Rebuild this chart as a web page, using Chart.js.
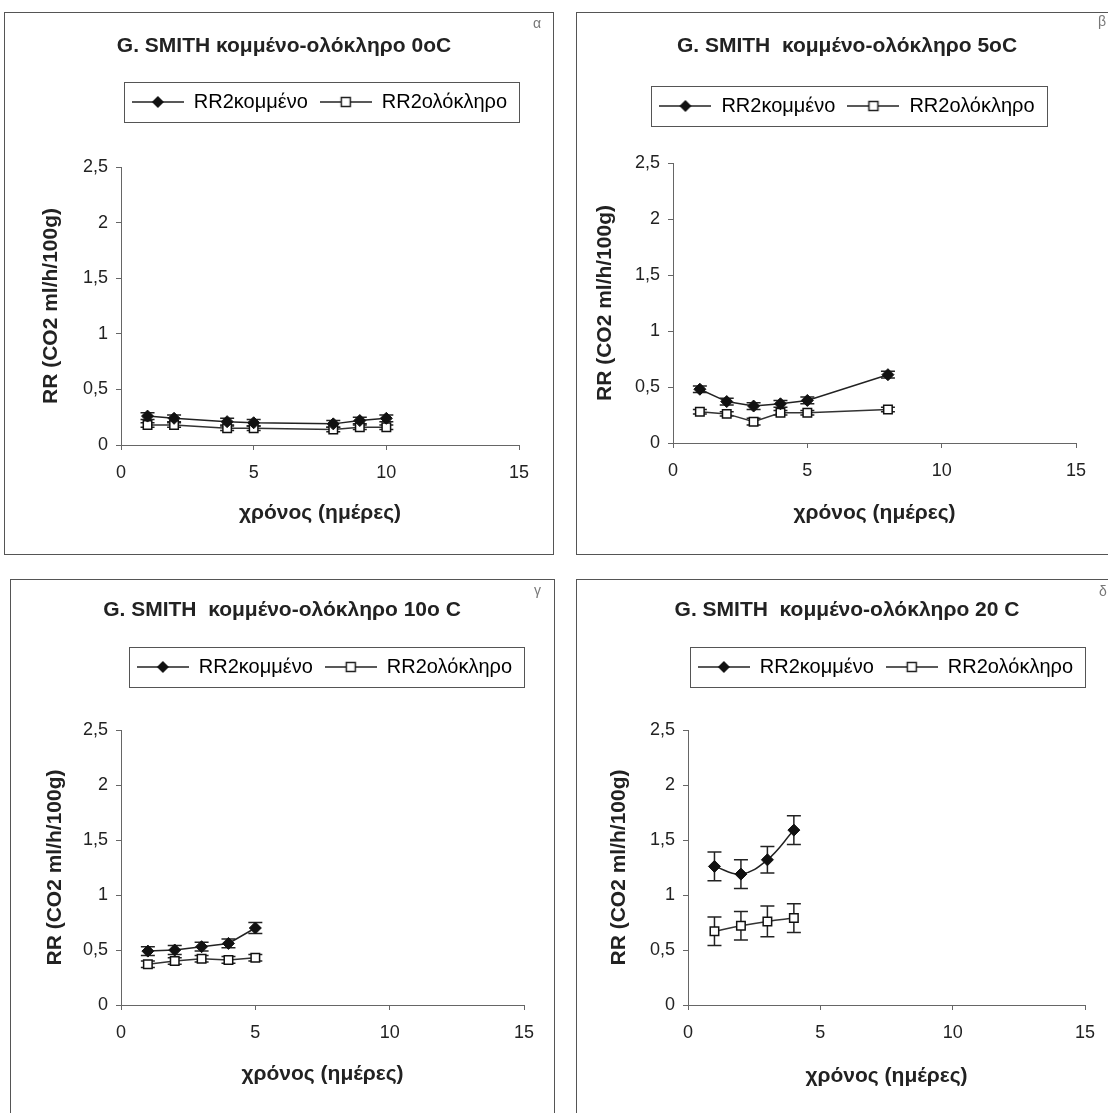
<!DOCTYPE html>
<html>
<head>
<meta charset="utf-8">
<title>G. SMITH κομμένο-ολόκληρο</title>
<script src="https://cdn.jsdelivr.net/npm/chart.js@4.4.1/dist/chart.umd.min.js"></script>
<style>
  body { margin: 0; background: #fff; }
  #page { position: relative; width: 1108px; height: 1113px; overflow: hidden; background: #fff; }
  .panel { position: absolute; border: 1px solid #555; }
  .panel canvas { position: absolute; left: 0; top: 0; }
  .tag { position: absolute; font: 14px 'Liberation Sans', Arial, sans-serif; color: #777; }
</style>
</head>
<body>
<div id="page">
  <div class="panel" style="left:4px;top:12px;width:548px;height:541px"><canvas id="c0" width="548" height="541"></canvas></div>
  <div class="panel" style="left:576px;top:12px;width:545px;height:541px"><canvas id="c5" width="545" height="541"></canvas></div>
  <div class="panel" style="left:10px;top:579px;width:543px;height:545px"><canvas id="c10" width="543" height="545"></canvas></div>
  <div class="panel" style="left:576px;top:579px;width:545px;height:545px"><canvas id="c20" width="545" height="545"></canvas></div>
  <span class="tag" style="left:533px;top:15px">α</span>
  <span class="tag" style="left:1098px;top:13px">β</span>
  <span class="tag" style="left:534px;top:582px">γ</span>
  <span class="tag" style="left:1099px;top:583px">δ</span>
</div>
<script>
// Series names and axis labels
const seriesNames = ['RR2κομμένο', 'RR2ολόκληρο'];
const xTitle = 'χρόνος (ημέρες)';
const yTitle = 'RR (CO2 ml/h/100g)';
const xTickLabels = ['0', '5', '10', '15'];
const yTickLabels = ['0', '0,5', '1', '1,5', '2', '2,5'];

// 0oC
const days0C = [1, 2, 4, 5, 8, 9, 10];
const cut0C = [0.26, 0.24, 0.21, 0.20, 0.19, 0.22, 0.24];
const whole0C = [0.18, 0.18, 0.15, 0.15, 0.14, 0.16, 0.16];
const cut0CErr = [0.03, 0.03, 0.03, 0.03, 0.03, 0.03, 0.03];
const whole0CErr = [0.02, 0.02, 0.02, 0.02, 0.02, 0.02, 0.02];

// 5oC
const days5C = [1, 2, 3, 4, 5, 8];
const cut5C = [0.48, 0.37, 0.33, 0.35, 0.38, 0.61];
const whole5C = [0.28, 0.26, 0.19, 0.27, 0.27, 0.30];
const cut5CErr = [0.03, 0.03, 0.03, 0.03, 0.03, 0.03];
const whole5CErr = [0.02, 0.02, 0.03, 0.02, 0.02, 0.02];

// 10oC
const days10C = [1, 2, 3, 4, 5];
const cut10C = [0.49, 0.50, 0.53, 0.56, 0.70];
const whole10C = [0.37, 0.40, 0.42, 0.41, 0.43];
const cut10CErr = [0.04, 0.04, 0.04, 0.04, 0.05];
const whole10CErr = [0.03, 0.03, 0.03, 0.03, 0.03];

// 20oC
const days20C = [1, 2, 3, 4];
const cut20C = [1.26, 1.19, 1.32, 1.59];
const whole20C = [0.67, 0.72, 0.76, 0.79];
const cut20CErr = [0.13, 0.13, 0.12, 0.13];
const whole20CErr = [0.13, 0.13, 0.14, 0.13];

const TITLE_SIZE = 21;
const AXIS_TITLE_SIZE = 21;
const TICK_SIZE = 18;
const LEGEND_SIZE = 20;
const LEGEND_PAD = 12;

Chart.defaults.font.family = "'Liberation Sans', Arial, sans-serif";
Chart.defaults.color = '#222';

// where things sit inside each panel (canvas pixels)
const panels = [
  { id: 'c0', title: 'G. SMITH κομμένο-ολόκληρο 0oC', days: days0C, cut: cut0C, whole: whole0C,
    cutErr: cut0CErr, wholeErr: whole0CErr, tension: 0,
    caL: 116, caR: 514, caT: 154, caB: 432, titleCX: 279, titleCY: 33, legendCY: 89,
    legendAlign: 'end', yTitleCX: 46, xTitleCY: 500 },
  { id: 'c5', title: 'G. SMITH  κομμένο-ολόκληρο 5oC', days: days5C, cut: cut5C, whole: whole5C,
    cutErr: cut5CErr, wholeErr: whole5CErr, tension: 0,
    caL: 96, caR: 499, caT: 150, caB: 430, titleCX: 270, titleCY: 33, legendCY: 93,
    legendAlign: 'center', yTitleCX: 28, xTitleCY: 500 },
  { id: 'c10', title: 'G. SMITH  κομμένο-ολόκληρο 10o C', days: days10C, cut: cut10C, whole: whole10C,
    cutErr: cut10CErr, wholeErr: whole10CErr, tension: 0,
    caL: 110, caR: 513, caT: 150, caB: 425, titleCX: 271, titleCY: 30, legendCY: 87,
    legendAlign: 'end', yTitleCX: 44, xTitleCY: 494 },
  { id: 'c20', title: 'G. SMITH  κομμένο-ολόκληρο 20 C', days: days20C, cut: cut20C, whole: whole20C,
    cutErr: cut20CErr, wholeErr: whole20CErr, tension: 0.4,
    caL: 111, caR: 508, caT: 150, caB: 425, titleCX: 270, titleCY: 30, legendCY: 87,
    legendAlign: 'end', yTitleCX: 42, xTitleCY: 496 }
];

// small line+marker picture used as the legend symbol
function legendSymbol(filled) {
    const c = document.createElement('canvas');
    c.width = 52;
    c.height = 14;
    const g = c.getContext('2d');
    g.strokeStyle = '#222';
    g.lineWidth = 1.5;
    g.beginPath();
    g.moveTo(0, 7);
    g.lineTo(52, 7);
    g.stroke();
    if (filled) {
        g.fillStyle = '#111';
        g.beginPath();
        g.moveTo(26, 1);
        g.lineTo(32, 7);
        g.lineTo(26, 13);
        g.lineTo(20, 7);
        g.closePath();
        g.fill();
    } else {
        g.fillStyle = '#fff';
        g.fillRect(21.5, 2.5, 9, 9);
        g.strokeRect(21.5, 2.5, 9, 9);
    }
    return c;
}
const symbols = [legendSymbol(true), legendSymbol(false)];

// vertical error bars with caps, drawn under the markers
const errorBars = {
    id: 'errorBars',
    beforeDatasetsDraw(chart) {
        const { ctx, scales: { x, y } } = chart;
        ctx.save();
        ctx.strokeStyle = '#222';
        ctx.lineWidth = 1.5;
        chart.data.datasets.forEach(ds => {
            ds.data.forEach((pt, j) => {
                const e = ds.errors[j];
                const px = x.getPixelForValue(pt.x);
                const top = y.getPixelForValue(pt.y + e);
                const bot = y.getPixelForValue(pt.y - e);
                ctx.beginPath();
                ctx.moveTo(px, top);
                ctx.lineTo(px, bot);
                ctx.moveTo(px - 7, top);
                ctx.lineTo(px + 7, top);
                ctx.moveTo(px - 7, bot);
                ctx.lineTo(px + 7, bot);
                ctx.stroke();
            });
        });
        ctx.restore();
    }
};

// box around the legend entries
const legendFrame = {
    id: 'legendFrame',
    afterDraw(chart) {
        const boxes = chart.legend.legendHitBoxes;
        if (!boxes || !boxes.length) return;
        const first = boxes[0];
        const last = boxes[boxes.length - 1];
        const ctx = chart.ctx;
        ctx.save();
        ctx.strokeStyle = '#555';
        ctx.lineWidth = 1;
        const left = Math.round(first.left - 8) + 0.5;
        const right = Math.round(last.left + last.width + 12) + 0.5;
        const top = Math.round(first.top - 10) + 0.5;
        const bottom = Math.round(first.top + first.height + 10) + 0.5;
        ctx.strokeRect(left, top, right - left, bottom - top);
        ctx.restore();
    }
};

function makeChart(p) {
    const canvas = document.getElementById(p.id);
    const W = canvas.width;
    const H = canvas.height;
    const padRight = W - p.caR;
    const padLeft = 2 * p.titleCX - p.caR;
    const titleLH = TITLE_SIZE * 1.2;
    const axisLH = AXIS_TITLE_SIZE * 1.2;
    const titleTop = p.titleCY - titleLH / 2;
    const titleBottom = p.legendCY - LEGEND_PAD - LEGEND_SIZE / 2 - p.titleCY - titleLH / 2;
    const legendBottom = p.legendCY + LEGEND_SIZE / 2 + 10;
    const spacer = p.caT - legendBottom;

    const datasets = [
        {
            label: seriesNames[0],
            data: p.days.map((d, i) => ({ x: d, y: p.cut[i] })),
            errors: p.cutErr,
            borderColor: '#222',
            borderWidth: 1.5,
            pointStyle: 'rectRot',
            pointRadius: 6,
            pointBackgroundColor: '#111',
            pointBorderColor: '#111',
            pointBorderWidth: 1,
            tension: p.tension,
            fill: false
        },
        {
            label: seriesNames[1],
            data: p.days.map((d, i) => ({ x: d, y: p.whole[i] })),
            errors: p.wholeErr,
            borderColor: '#333',
            borderWidth: 1.5,
            pointStyle: 'rect',
            pointRadius: 6,
            pointBackgroundColor: '#fff',
            pointBorderColor: '#111',
            pointBorderWidth: 1.5,
            tension: p.tension,
            fill: false
        }
    ];

    return new Chart(canvas, {
        type: 'line',
        data: { datasets: datasets },
        plugins: [errorBars, legendFrame],
        options: {
            responsive: false,
            animation: false,
            layout: { padding: { left: padLeft, right: padRight, top: 0, bottom: 0 } },
            plugins: {
                tooltip: { enabled: false },
                title: {
                    display: true,
                    text: p.title,
                    font: { size: TITLE_SIZE, weight: 'bold' },
                    color: '#222',
                    padding: { top: titleTop, bottom: titleBottom }
                },
                legend: {
                    display: true,
                    position: 'top',
                    align: p.legendAlign,
                    labels: {
                        font: { size: LEGEND_SIZE },
                        color: '#222',
                        padding: LEGEND_PAD,
                        usePointStyle: true,
                        pointStyleWidth: 52,
                        generateLabels: chart => chart.data.datasets.map((ds, i) => ({
                            text: ds.label,
                            pointStyle: symbols[i],
                            fillStyle: '#fff',
                            strokeStyle: '#222',
                            lineWidth: 0,
                            hidden: false,
                            datasetIndex: i
                        }))
                    }
                },
                subtitle: {
                    // empty spacer between legend and plot
                    display: true,
                    text: '',
                    weight: 500,
                    font: { size: 10, lineHeight: 1 },
                    padding: { top: spacer - 10, bottom: 0 }
                }
            },
            scales: {
                x: {
                    type: 'linear',
                    min: 0,
                    max: 15,
                    afterFit: s => { s.height = H - p.caB; },
                    ticks: {
                        stepSize: 5,
                        padding: 12,
                        font: { size: TICK_SIZE },
                        color: '#222',
                        maxRotation: 0,
                        callback: (v, i) => xTickLabels[i]
                    },
                    grid: { drawOnChartArea: false, drawTicks: true, tickLength: 5, color: '#666' },
                    border: { display: true, color: '#666', width: 1 },
                    title: {
                        display: true,
                        text: xTitle,
                        font: { size: AXIS_TITLE_SIZE, weight: 'bold' },
                        color: '#222',
                        padding: { top: 0, bottom: H - p.xTitleCY - axisLH / 2 }
                    }
                },
                y: {
                    type: 'linear',
                    min: 0,
                    max: 2.5,
                    afterFit: s => { s.width = p.caL - padLeft; },
                    ticks: {
                        stepSize: 0.5,
                        padding: 8,
                        font: { size: TICK_SIZE },
                        color: '#222',
                        callback: (v, i) => yTickLabels[i]
                    },
                    grid: { drawOnChartArea: false, drawTicks: true, tickLength: 5, color: '#666' },
                    border: { display: true, color: '#666', width: 1 },
                    title: {
                        display: true,
                        text: yTitle,
                        font: { size: AXIS_TITLE_SIZE, weight: 'bold' },
                        color: '#222',
                        padding: { top: p.yTitleCX - padLeft - axisLH / 2, bottom: 0 }
                    }
                }
            }
        }
    });
}

panels.forEach(makeChart);
</script>
</body>
</html>
